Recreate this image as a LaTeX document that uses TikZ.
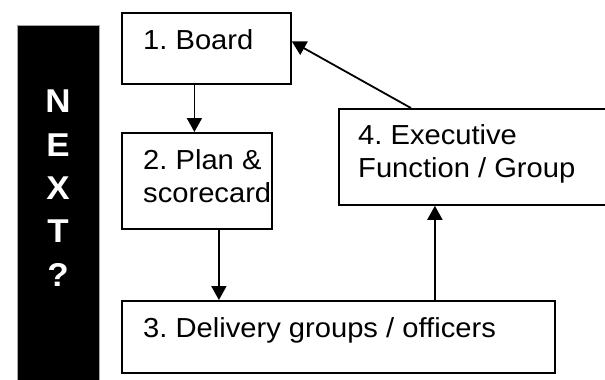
\documentclass[tikz,border=0pt]{standalone}
\usepackage{fontspec}
\setmainfont{Liberation Sans}[FakeStretch=1.06]
\usetikzlibrary{arrows.meta}
\frenchspacing
\tikzset{
  stage/.style={draw,line width=1.8pt,anchor=north west,inner sep=0pt},
  stagetext/.style={anchor=base west,align=left,inner sep=0pt,font=\fontsize{27.5}{32.5}\selectfont},
  nextletter/.style={text=white,inner sep=0pt,font=\bfseries\fontsize{33}{33}\selectfont},
  flow/.style={-{Triangle[length=14pt,width=15pt]},line width=1.8pt}
}
\begin{document}
\begin{tikzpicture}[x=1pt,y=-1pt]
\useasboundingbox (0,0) rectangle (605,380);

\node[fill=black,draw=gray!70,line width=0.8pt,anchor=north west,inner sep=0pt,minimum width=82pt,minimum height=370pt] (bar) at (17,25) {};
\foreach \ch [count=\i] in {N,E,X,T,?}
  \node[nextletter] (letter\i) at (58,101.5+43.3*\i-43.3) {\ch};

\node[stage,minimum width=169pt,minimum height=71pt] (board) at (121,12) {};
\node[stage,minimum width=150pt,minimum height=96pt] (plan) at (121,132) {};
\node[stage,minimum width=433pt,minimum height=72pt] (delivery) at (121,300) {};
\node[stage,minimum width=272pt,minimum height=96pt] (exec) at (338,108) {};

% last baseline of each text
\node[stagetext] (boardtext) at ([shift={(22pt,-37pt)}]board.north west) {1. Board};
\node[stagetext] (plantext) at ([shift={(22pt,-70pt)}]plan.north west) {2. Plan \&\\scorecard};
\node[stagetext] (deliverytext) at ([shift={(22pt,-37pt)}]delivery.north west) {3. Delivery groups / officers};
\node[stagetext] (exectext) at ([shift={(20pt,-69pt)}]exec.north west) {4. Executive\\Function / Group};

\draw[flow] ([xshift=-12pt]board.south) -- ([xshift=-12pt]board.south |- plan.north);
\draw[flow] ([xshift=22pt]plan.south) -- ([xshift=22pt]plan.south |- delivery.north);
\draw[flow] ([xshift=-40pt]exec.south |- delivery.north) -- ([xshift=-40pt]exec.south);
\draw[flow] ([xshift=-64pt]exec.north) -- ([yshift=7pt]board.east);
\end{tikzpicture}
\end{document}
